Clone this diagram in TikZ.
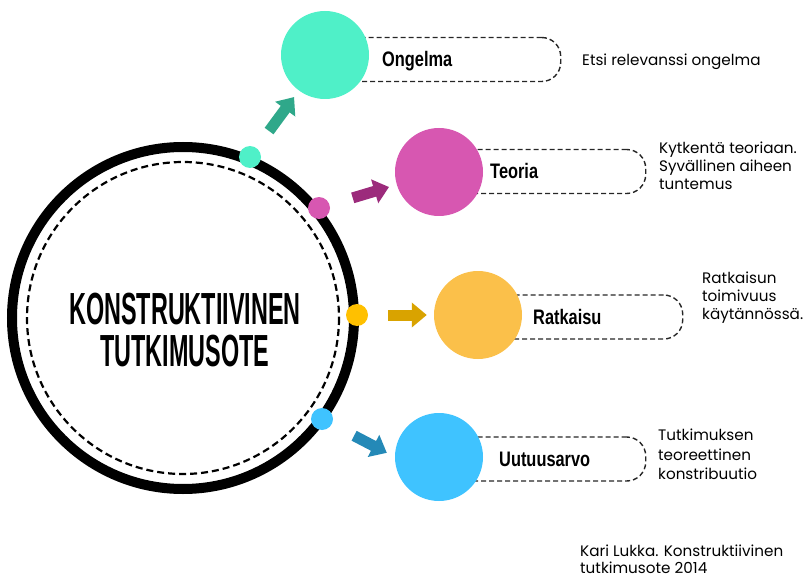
\documentclass[tikz,border=0pt]{standalone}
\usepackage{fontspec}
\usetikzlibrary{arrows.meta}
\usepackage{xcolor}
\newfontfamily\headfont[FakeStretch=0.52]{Liberation Sans}
\newfontfamily\tagfont[FakeStretch=0.78]{Liberation Sans}
\newfontfamily\notefont{Poppins}

\definecolor{tealc}{HTML}{4FF0C8}
\definecolor{pinkc}{HTML}{D757B1}
\definecolor{yellowc}{HTML}{FBC04A}
\definecolor{yellowd}{HTML}{FFC000}
\definecolor{bluec}{HTML}{3FC3FF}
\definecolor{teala}{HTML}{2FA88A}
\definecolor{pinka}{HTML}{9C2B7C}
\definecolor{yellowa}{HTML}{D9A300}
\definecolor{bluea}{HTML}{2489B7}

\begin{document}
\begin{tikzpicture}[x=1pt, y=-1pt]
        % ================= styles =================
        \tikzset{
            % black ring and dashed inner ring
            bigring/.style={line width=10pt, black},
            innerring/.style={line width=2.2pt, black, dash pattern=on 7pt off 4pt},
            % small dots on the ring
            rdot/.style={circle, inner sep=0pt, minimum size=22pt},
            % big coloured circles
            topic/.style={circle, inner sep=0pt, minimum size=88pt},
            % dashed pill behind each big circle
            pill/.style={draw=black!85, line width=1.4pt, dash pattern=on 5pt off 3pt, rounded corners=19pt, minimum height=44pt, inner sep=0pt, anchor=west},
            tag/.style={font=\tagfont\bfseries\fontsize{21}{24}\selectfont, anchor=base west, inner sep=0pt},
            note/.style={font=\notefont\fontsize{15.2}{18}\selectfont, anchor=north west, align=left, inner sep=0pt},
            blockarrow/.style={line width=11pt, -{Triangle[length=15pt, width=24pt]}}
        }
        \useasboundingbox (0,0) rectangle (803,580);

        % ================= centre ring =================
        \coordinate (hub) at (183,318);
        \draw[bigring] (hub) circle (171);
        \draw[innerring] (hub) circle (156);
        \node[font=\headfont\bfseries\fontsize{45}{42}\selectfont, align=center, inner sep=0pt] (core) at (185,330) {KONSTRUKTIIVINEN\\TUTKIMUSOTE};

        % dots on the ring
        \node[rdot, fill=tealc] (d1) at (250,157) {};
        \node[rdot, fill=pinkc] (d2) at (319,208) {};
        \node[rdot, fill=yellowd] (d3) at (357,315) {};
        \node[rdot, fill=bluec] (d4) at (322,419) {};

        % ================= pills and big circles =================
        \foreach \i/\x/\y/\py/\w/\col in {1/325/55/59.5/235/tealc, 2/439/172/171.5/206/pinkc, 3/478/315/317/204/yellowc, 4/439/457/459/206/bluec} {
            \node[pill, minimum width=\w pt] (p\i) at (\x,\py) {};
            \node[topic, fill=\col] (c\i) at (\x,\y) {};
        }

        \node[tag] (t1) at (382,67) {Ongelma};
        \node[tag] (t2) at (490,179) {Teoria};
        \node[tag] (t3) at (533,324.5) {Ratkaisu};
        \node[tag] (t4) at (499,466.5) {Uutuusarvo};

        % ================= arrows =================
        \draw[blockarrow, teala, shorten <=21pt, shorten >=8pt] (d1) -- (c1);
        \draw[blockarrow, pinka, shorten <=24pt, shorten >=8pt] (d2) -- (c2);
        \draw[blockarrow, yellowa, shorten <=20pt, shorten >=7pt] (d3) -- (c3);
        \draw[blockarrow, bluea, shorten <=25pt, shorten >=9pt] (d4) -- (c4.west);

        % ================= notes =================
        \node[note] (n1) at (582,54) {Etsi relevanssi ongelma};
        \node[note] (n2) at (659,142) {Kytkentä teoriaan.\\Syvällinen aiheen\\tuntemus};
        \node[note] (n3) at (702,272) {Ratkaisun\\toimivuus\\käytännössä.};
        \node[note, font=\notefont\fontsize{15.2}{19.5}\selectfont] (n4) at (658,429) {Tutkimuksen\\teoreettinen\\konstribuutio};
        \node[note, font=\notefont\fontsize{15.2}{17}\selectfont] (n5) at (580,545) {Kari Lukka. Konstruktiivinen\\tutkimusote 2014};

\end{tikzpicture}
\end{document}
